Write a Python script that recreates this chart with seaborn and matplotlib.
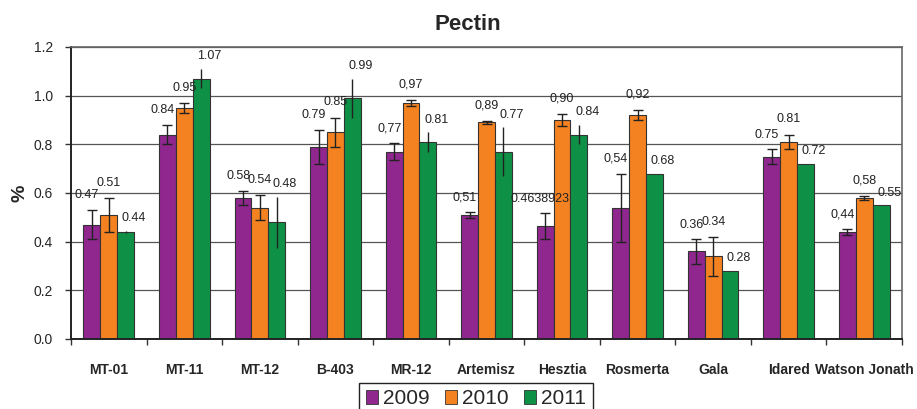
import matplotlib
matplotlib.use("Agg")
import matplotlib.pyplot as plt
import numpy as np
import pandas as pd
import seaborn as sns

cultivars = ["MT-01", "MT-11", "MT-12", "B-403", "MR-12", "Artemisz",
             "Hesztia", "Rosmerta", "Gala", "Idared", "Watson Jonath"]
years = ["2009", "2010", "2011"]

pectin_2009 = [0.47, 0.84, 0.58, 0.79, 0.77, 0.51, 0.4638923, 0.54, 0.36, 0.75, 0.44]
pectin_2010 = [0.51, 0.95, 0.54, 0.85, 0.97, 0.89, 0.90, 0.92, 0.34, 0.81, 0.58]
pectin_2011 = [0.44, 1.07, 0.48, 0.99, 0.81, 0.77, 0.84, 0.68, 0.28, 0.72, 0.55]

err_2009 = [0.06, 0.04, 0.03, 0.07, 0.035, 0.013, 0.053, 0.14, 0.05, 0.03, 0.012]
err_2010 = [0.07, 0.02, 0.05, 0.06, 0.013, 0.005, 0.025, 0.02, 0.08, 0.03, 0.007]
err_2011 = [0.005, 0.04, 0.105, 0.08, 0.04, 0.10, 0.04, 0.0, 0.0, 0.0, 0.0]

labels_2009 = ["0.47", "0.84", "0.58", "0.79", "0,77", "0,51", "0.4638923", "0,54", "0.36", "0.75", "0,44"]
labels_2010 = ["0.51", "0.95", "0.54", "0.85", "0,97", "0,89", "0,90", "0,92", "0.34", "0.81", "0,58"]
labels_2011 = ["0.44", "1.07", "0.48", "0.99", "0.81", "0.77", "0.84", "0.68", "0.28", "0.72", "0.55"]

colors = ["#90278e", "#f58220", "#0e9146"]

df = pd.DataFrame({
    "cultivar": cultivars * 3,
    "year": np.repeat(years, len(cultivars)),
    "value": pectin_2009 + pectin_2010 + pectin_2011,
})
errs = [err_2009, err_2010, err_2011]
labels = [labels_2009, labels_2010, labels_2011]
# label offsets (points) per year, like Excel's default placement
label_shift = [(-3.5, 10.5), (0, 11), (6, 9)]

sns.set_style("white")
plt.rcParams["font.family"] = ["Liberation Sans", "DejaVu Sans"]

fig = plt.figure(figsize=(9.17, 4.09), dpi=100)
ax = fig.add_axes([71 / 917, 1 - 339 / 409, 831 / 917, 292 / 409])

sns.barplot(data=df, x="cultivar", y="value", hue="year", palette=colors,
            width=0.67, edgecolor="#333333", linewidth=0.8, errorbar=None,
            saturation=1, ax=ax)

bar_groups = list(ax.containers)
for i, cont in enumerate(bar_groups):
    xs = [p.get_x() + p.get_width() / 2 for p in cont.patches]
    hs = [p.get_height() for p in cont.patches]
    cap = 3.5 if i < 2 else 0
    ax.errorbar(xs, hs, yerr=errs[i], fmt="none", ecolor="#222222",
                elinewidth=1, capsize=cap, capthick=1, zorder=5)
    for x, h, e, lab in zip(xs, hs, errs[i], labels[i]):
        ax.annotate(lab, (x, h + e), xytext=label_shift[i], textcoords="offset points",
                    ha="center", va="center", fontsize=9, color="#222222")

ax.set_ylim(0, 1.2)
ax.set_xlim(-0.5, len(cultivars) - 0.5)
ax.set_yticks(np.arange(0, 1.21, 0.2))
ax.set_yticklabels([f"{v:.1f}" for v in np.arange(0, 1.21, 0.2)], fontsize=10)
ax.yaxis.grid(True, color="#555555", linewidth=0.9)
ax.set_axisbelow(True)

ax.set_xticks(np.arange(-0.5, len(cultivars), 1))
ax.set_xticklabels([])
ax.set_xticks(np.arange(len(cultivars)), minor=True)
ax.set_xticklabels(cultivars, minor=True, fontsize=10, fontweight="bold")
ax.tick_params(axis="x", which="major", length=4, width=1, color="#333333", direction="out", bottom=True)
ax.tick_params(axis="x", which="minor", length=0, pad=17)
ax.tick_params(axis="y", length=4, width=1, color="#333333", direction="out", left=True, pad=9)

for side in ["left", "bottom"]:
    ax.spines[side].set_color("#222222")
    ax.spines[side].set_linewidth(1.4)
for side in ["top", "right"]:
    ax.spines[side].set_color("#666666")
    ax.spines[side].set_linewidth(1.2)

ax.set_xlabel("")
ax.set_ylabel("%", fontsize=14, fontweight="bold", labelpad=4)
fig.text(468 / 917, 1 - 25 / 409, "Pectin", fontsize=16, fontweight="bold",
         ha="center", va="center")

ax.get_legend().remove()
handles = [plt.Rectangle((0, 0), 1, 1, facecolor=c, edgecolor="#333333", linewidth=0.6) for c in colors]
fig.legend(handles, years, loc="upper center", bbox_to_anchor=(476 / 917, 1 - 383 / 409),
           ncol=3, fontsize=15, frameon=True, fancybox=False, edgecolor="#222222",
           handlelength=0.6, handleheight=0.6, handletextpad=0.25, columnspacing=0.7,
           borderpad=0.3, borderaxespad=0, framealpha=1)

fig.savefig("out.png", dpi=100)
